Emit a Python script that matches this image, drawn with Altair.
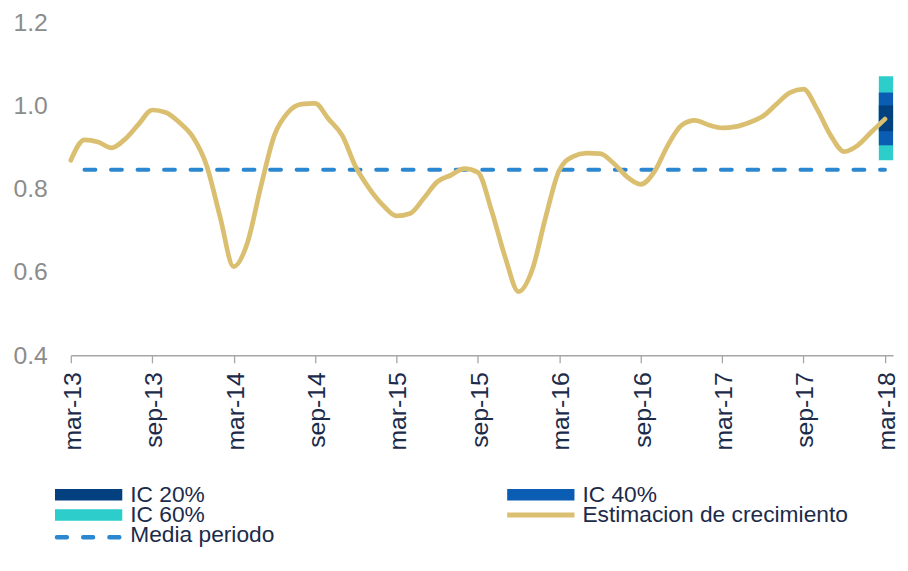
import altair as alt
import pandas as pd

# ---- data ----
tick_months = [0, 6, 12, 18, 24, 30, 36, 42, 48, 54, 60]
tick_labels = ["mar-13", "sep-13", "mar-14", "sep-14", "mar-15", "sep-15",
               "mar-16", "sep-16", "mar-17", "sep-17", "mar-18"]

# monthly growth estimate, mar-13 .. mar-18
growth = [0.869, 0.918, 0.913, 0.899, 0.920, 0.956, 0.990, 0.984, 0.960, 0.925,
          0.857, 0.733, 0.613, 0.669, 0.805, 0.929, 0.984, 1.004, 1.006, 0.968,
          0.929, 0.853, 0.801, 0.761, 0.735, 0.741, 0.777, 0.817, 0.833, 0.849,
          0.840, 0.749, 0.637, 0.553, 0.605, 0.733, 0.845, 0.878, 0.886, 0.885,
          0.862, 0.829, 0.811, 0.841, 0.905, 0.953, 0.965, 0.954, 0.947, 0.950,
          0.960, 0.975, 1.004, 1.032, 1.040, 0.992, 0.929, 0.890, 0.905, 0.937,
          0.968]
mean_value = 0.846

ic_levels = ["IC 60%", "IC 40%", "IC 20%"]
ic_low = [0.869, 0.905, 0.939]
ic_high = [1.071, 1.032, 1.001]
ic_colors = ["#2dcdcc", "#0b5db3", "#034080"]
ic_month = 60

legend_labels = ["IC 20%", "IC 40%", "IC 60%", "Estimacion de crecimiento", "Media periodo"]
legend_kinds = ["rect", "rect", "rect", "line", "dash"]
legend_colors = ["#034080", "#0b5db3", "#2dcdcc", "#dbbf71", "#2b87cf"]
legend_col = [0, 1, 0, 1, 0]
legend_row = [0, 0, 1, 1, 2]

FONT = "Liberation Sans"
NAVY = "#1c2b4a"
GOLD = "#dbbf71"
MEANC = "#2b87cf"

line_df = pd.DataFrame({"m": list(range(len(growth))), "v": growth})
band_df = pd.DataFrame({"nivel": ic_levels, "lo": ic_low, "hi": ic_high,
                        "m": [ic_month] * len(ic_levels)})
mean_df = pd.DataFrame({"m0": [tick_months[0]], "m1": [tick_months[-1]], "v": [mean_value]})
leg_df = pd.DataFrame({"label": legend_labels, "kind": legend_kinds, "color": legend_colors,
                       "col": legend_col, "row": legend_row})

label_js = "[" + ",".join("'%s'" % s for s in tick_labels) + "]"

xscale = alt.Scale(domain=[0, 60.6], nice=False, zero=False, padding=0)
yscale = alt.Scale(domain=[0.4, 1.2], nice=False, zero=False, padding=0)

xaxis = alt.Axis(values=tick_months, labelExpr=label_js + "[round(datum.value/6)]",
                 labelAngle=270, labelFontSize=25, labelColor=NAVY, labelFont=FONT,
                 labelPadding=9, labelOffset=1.5,
                 labelFlush=False, labelOverlap=False,
                 tickSize=7.7, tickColor="#a6a6a6", tickWidth=1.3,
                 domainColor="#a6a6a6", domainWidth=1.5, grid=False, title=None)
yaxis = alt.Axis(values=[0.4, 0.6, 0.8, 1.0, 1.2], format=".1f", labelFontSize=25,
                 labelColor="#8c8c8c", labelFont=FONT, ticks=False, tickSize=0,
                 domain=False, grid=False, labelPadding=23.7, title=None)

# confidence bands: one month wide column at the last observation
bands = alt.Chart(band_df).transform_calculate(
    ma="datum.m - 0.45", mb="datum.m + 0.6"
).mark_rect().encode(
    x=alt.X("ma:Q", scale=xscale, axis=xaxis),
    x2="mb:Q",
    y=alt.Y("lo:Q", scale=yscale, axis=yaxis),
    y2="hi:Q",
    color=alt.Color("nivel:N", scale=alt.Scale(domain=ic_levels, range=ic_colors), legend=None),
)

mean_rule = alt.Chart(mean_df).mark_rule(
    strokeWidth=4, strokeDash=[11, 15.8], strokeDashOffset=13, strokeCap="round", color=MEANC
).encode(
    x=alt.X("m0:Q", scale=xscale),
    x2="m1:Q",
    y=alt.Y("v:Q", scale=yscale),
)

line = alt.Chart(line_df).mark_line(
    interpolate="monotone", strokeWidth=4.8, color=GOLD, strokeCap="round"
).encode(
    x=alt.X("m:Q", scale=xscale),
    y=alt.Y("v:Q", scale=yscale),
)

main = alt.layer(bands, mean_rule, line).properties(width=831, height=336)

# ---- legend panel ----
lx = alt.X("col:Q", scale=alt.Scale(domain=[0, 1], range=[-16, 441]), axis=None)
ly = alt.Y("row:Q", scale=alt.Scale(domain=[0, 2], range=[0, 41]), axis=None)
lc = alt.Color("color:N", scale=None)
base = alt.Chart(leg_df)

leg_rect = base.transform_filter("datum.kind == 'rect'").mark_rule(
    strokeWidth=11.5, strokeCap="butt", x2Offset=68
).encode(x=lx, x2="col:Q", y=ly, color=lc)
leg_line = base.transform_filter("datum.kind == 'line'").mark_rule(
    strokeWidth=5, strokeCap="butt", x2Offset=68
).encode(x=lx, x2="col:Q", y=ly, color=lc)
leg_dash = base.transform_filter("datum.kind == 'dash'").mark_rule(
    strokeWidth=4.5, strokeDash=[10, 16.5], strokeCap="round", xOffset=2, x2Offset=66,
    yOffset=2
).encode(x=lx, x2="col:Q", y=ly, color=lc)
leg_text = base.mark_text(
    align="left", baseline="middle", dx=76, fontSize=23, font=FONT, color=NAVY
).encode(x=lx, y=ly, text="label:N")

legend = alt.layer(leg_rect, leg_line, leg_dash, leg_text).properties(width=831, height=41)

chart = alt.vconcat(main, legend, spacing=141, bounds="flush").properties(
    padding={"left": 4.5, "top": 0, "right": 0, "bottom": 0}
).configure(font=FONT).configure_view(stroke=None)

chart.save("out.html", embed_options={"renderer": "svg", "actions": False})
